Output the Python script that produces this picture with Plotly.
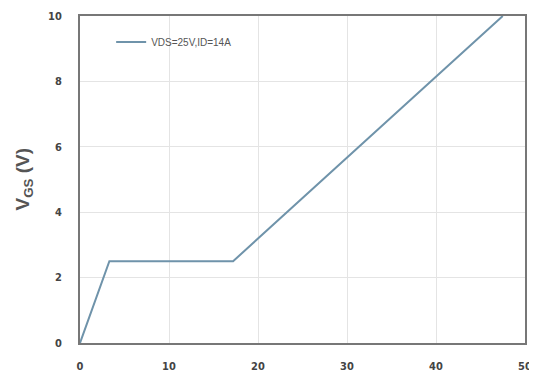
import plotly.graph_objects as go

qg = [0, 3.3, 17.2, 47.5]
vgs = [0, 2.5, 2.5, 10]
series_name = "VDS=25V,ID=14A"
xticks = [0, 10, 20, 30, 40, 50]
yticks = [0, 2, 4, 6, 8, 10]

fig = go.Figure()
fig.add_trace(go.Scatter(x=qg, y=vgs, mode="lines", name=series_name,
                         line=dict(color="#6f93aa", width=2)))

tickfont = dict(size=11, color="#444", family="DejaVu Sans Condensed, Liberation Sans Narrow, Arial", weight="bold")

fig.update_layout(
    width=529, height=372,
    margin=dict(l=72, r=12, t=8, b=37),
    plot_bgcolor="white", paper_bgcolor="white",
    font=dict(family="Liberation Sans, Arial", color="#444"),
    showlegend=True,
    legend=dict(x=0.07, y=0.965, xanchor="left", yanchor="top",
                bgcolor="rgba(0,0,0,0)",
                font=dict(size=10, color="#555", family="Liberation Sans Narrow, Arial")),
    annotations=[dict(text="V<sub>GS</sub> (V)", xref="paper", yref="paper",
                      x=-0.128, y=0.5, xanchor="center", yanchor="middle",
                      textangle=-90, showarrow=False,
                      font=dict(size=19, color="#555", family="Liberation Sans, Arial", weight="bold"))],
)
fig.update_xaxes(range=[0, 50], tickvals=xticks, showgrid=True, gridcolor="#e4e4e4",
                 showline=True, linecolor="#777", linewidth=2, mirror=True,
                 ticks="", tickfont=tickfont, ticklabelstandoff=12, automargin=False,
                 zeroline=False)
fig.update_yaxes(range=[0, 10], tickvals=yticks, showgrid=True, gridcolor="#e4e4e4",
                 showline=True, linecolor="#777", linewidth=2, mirror=True,
                 ticks="", tickfont=tickfont, ticklabelstandoff=14, automargin=False,
                 zeroline=False)

fig.write_html("out.html")
